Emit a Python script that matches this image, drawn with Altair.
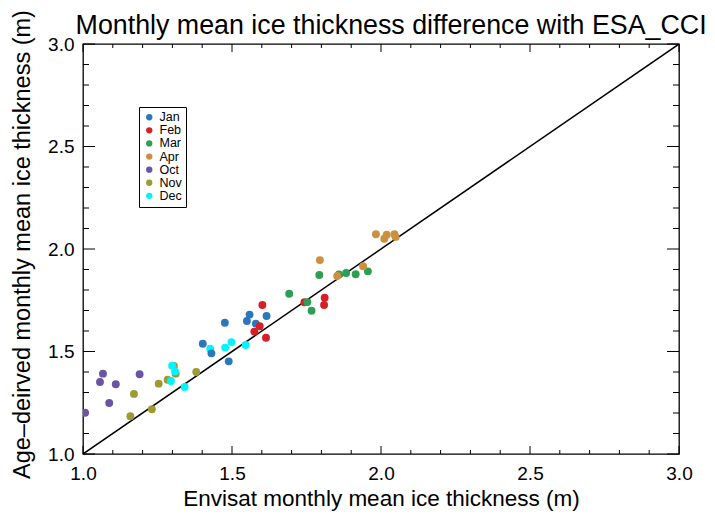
import altair as alt
import pandas as pd

months = ["Jan", "Feb", "Mar", "Apr", "Oct", "Nov", "Dec"]
colors = ["#2a77bb", "#d42027", "#2f9e55", "#cd8f3e", "#6a54a3", "#9c9a33", "#00f4ff"]

oct_x = [1.007, 1.057, 1.067, 1.088, 1.110, 1.190]
oct_y = [1.201, 1.351, 1.392, 1.249, 1.340, 1.389]
nov_x = [1.159, 1.171, 1.231, 1.254, 1.284, 1.305, 1.311, 1.380]
nov_y = [1.184, 1.293, 1.218, 1.343, 1.362, 1.429, 1.392, 1.400]
dec_x = [1.299, 1.309, 1.295, 1.341, 1.427, 1.477, 1.498, 1.546]
dec_y = [1.431, 1.403, 1.356, 1.327, 1.514, 1.519, 1.546, 1.532]
jan_x = [1.402, 1.431, 1.476, 1.489, 1.550, 1.559, 1.580, 1.616]
jan_y = [1.538, 1.491, 1.640, 1.452, 1.649, 1.680, 1.636, 1.673]
feb_x = [1.602, 1.593, 1.575, 1.614, 1.743, 1.811, 1.809]
feb_y = [1.727, 1.623, 1.597, 1.567, 1.740, 1.762, 1.727]
mar_x = [1.692, 1.753, 1.767, 1.793, 1.859, 1.883, 1.915, 1.956]
mar_y = [1.782, 1.741, 1.699, 1.873, 1.876, 1.883, 1.877, 1.891]
apr_x = [1.795, 1.853, 1.940, 1.983, 2.011, 2.019, 2.045, 2.049]
apr_y = [1.946, 1.868, 1.916, 2.072, 2.050, 2.070, 2.072, 2.059]

major_ticks = [1.0, 1.5, 2.0, 2.5, 3.0]
minor_ticks = [1.1, 1.2, 1.3, 1.4, 1.6, 1.7, 1.8, 1.9, 2.1, 2.2, 2.3, 2.4,
               2.6, 2.7, 2.8, 2.9]
line_x = [1.0, 3.0]
line_y = [1.0, 3.0]

W, H = 596, 410
FONT = "Liberation Sans"

rows = []
for name, xs, ys in [("Oct", oct_x, oct_y), ("Nov", nov_x, nov_y), ("Dec", dec_x, dec_y),
                     ("Jan", jan_x, jan_y), ("Feb", feb_x, feb_y), ("Mar", mar_x, mar_y),
                     ("Apr", apr_x, apr_y)]:
    for a, b in zip(xs, ys):
        rows.append({"month": name, "x": a, "y": b})
pts = pd.DataFrame(rows)

sx = alt.Scale(domain=[1, 3], nice=False, zero=False)
sy = alt.Scale(domain=[1, 3], nice=False, zero=False)

xaxis = alt.Axis(values=major_ticks, format=".1f", tickSize=0, domain=False, grid=False,
                 labelFontSize=19, labelFont=FONT, labelColor="black", labelPadding=10,
                 labelFlush=False,
                 title="Envisat monthly mean ice thickness (m)", titleFontSize=22.5,
                 titleFont=FONT, titleFontWeight="normal", titleColor="black", titlePadding=4)
yaxis = alt.Axis(values=major_ticks, format=".1f", tickSize=0, domain=False, grid=False,
                 labelFontSize=19, labelFont=FONT, labelColor="black", labelPadding=9,
                 labelFlush=False,
                 title="Age–deirved monthly mean ice thickness (m)", titleFontSize=23.5,
                 titleFont=FONT, titleFontWeight="normal", titleColor="black", titlePadding=13,
                 titleY=200)

diag = alt.Chart(pd.DataFrame({"x": line_x, "y": line_y})).mark_line(
    color="black", strokeWidth=1.5, clip=True
).encode(x=alt.X("x:Q", scale=sx, axis=xaxis), y=alt.Y("y:Q", scale=sy, axis=yaxis))

points = alt.Chart(pts).mark_circle(size=62, opacity=1, clip=True).encode(
    x=alt.X("x:Q", scale=sx, axis=xaxis),
    y=alt.Y("y:Q", scale=sy, axis=yaxis),
    color=alt.Color("month:N", scale=alt.Scale(domain=months, range=colors),
                    legend=alt.Legend(orient="none", legendX=56, legendY=63, title=None,
                                      strokeColor="black", fillColor="white", padding=4,
                                      labelFontSize=12.5, labelFont=FONT, labelColor="black",
                                      symbolSize=40, symbolType="circle", rowPadding=0.1,
                                      labelOffset=4, symbolStrokeWidth=0)),
)

maj = pd.DataFrame({"x": major_ticks, "y": major_ticks})
mnr = pd.DataFrame({"x": minor_ticks, "y": minor_ticks})

def xt(df, y0, y1):
    return alt.Chart(df).mark_rule(color="black", strokeWidth=1).encode(
        x=alt.X("x:Q", scale=sx, axis=xaxis), y=alt.value(y0), y2=alt.value(y1))

def yt(df, x0, x1):
    return alt.Chart(df).mark_rule(color="black", strokeWidth=1).encode(
        y=alt.Y("y:Q", scale=sy, axis=yaxis), x=alt.value(x0), x2=alt.value(x1))

ticks = [
    xt(maj, H, H - 8), xt(mnr, H, H - 4), xt(maj, 0, 8), xt(mnr, 0, 4),
    yt(maj, 0, 12), yt(mnr, 0, 6), yt(maj, W, W - 12), yt(mnr, W, W - 6),
]

chart = alt.layer(diag, *ticks, points).properties(
    width=W, height=H,
    title=alt.TitleParams("Monthly mean ice thickness difference with ESA_CCI",
                          fontSize=26.8, font=FONT, fontWeight="normal", color="black",
                          anchor="start", dx=65, dy=42, offset=12),
    autosize=alt.AutoSizeParams(type="none"),
    padding={"left": 83, "top": 44, "right": 36, "bottom": 61},
).configure_view(stroke="black", strokeWidth=1.3)

chart.save("out.html", embed_options={"renderer": "svg", "actions": False})
